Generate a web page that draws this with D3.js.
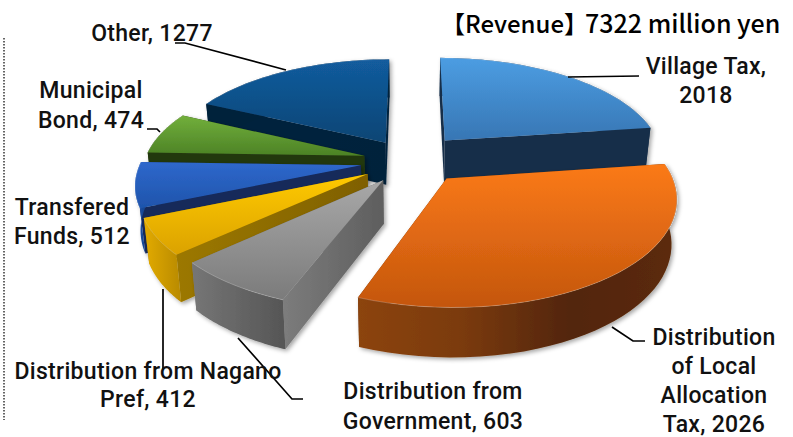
<!DOCTYPE html>
<html>
<head>
<meta charset="utf-8">
<script src="https://cdn.jsdelivr.net/npm/d3@7"></script>
<style>
html, body { margin: 0; padding: 0; background: #fff; }
svg { display: block; }
.label { font-family: Roboto, sans-serif; font-weight: 500; font-size: 23px; fill: #111; text-anchor: middle; letter-spacing: 0.3px; }
.title { font-family: "Noto Sans CJK JP", sans-serif; font-weight: 500; font-size: 24px; fill: #000; }
</style>
</head>
<body>
<div id="chart"></div>
<script>
// data
var categories = ["Village Tax", "Distribution of Local Allocation Tax", "Distribution from Government",
    "Distribution from Nagano Pref", "Transfered Funds", "Municipal Bond", "Other"]
var values = [2018, 2026, 603, 412, 512, 474, 1277]
var labelLines = [
    ["Village Tax,", "2018"],
    ["Distribution", "of Local", "Allocation", "Tax, 2026"],
    ["Distribution from", "Government, 603"],
    ["Distribution from Nagano", "Pref, 412"],
    ["Transfered", "Funds, 512"],
    ["Municipal", "Bond, 474"],
    ["Other, 1277"]
]
var titleHead = "【Revenue】"
var titleTail = "7322 million yen"

// colours: top face gradient, side wall, rim wall gradient
var topColors = [["#4c9de2", "#3776b4"], ["#fb7a17", "#c4560e"], ["#a8a8a8", "#7b7b7b"], ["#ffca00", "#dba200"],
    ["#2f68cc", "#1e54ab"], ["#72af3b", "#4c8226"], ["#125c9e", "#0d4574"]]
var wallColors = [["#182f4a", "#182f4a"], ["#6a3008", "#6a3008"], ["#7c7c7c", "#5e5e5e"], ["#9c7800", "#7f6000"],
    ["#15295a", "#15295a"], ["#23380f", "#23380f"], ["#05233e", "#03213b"]]
var rimColors = [["#182f4a", "#182f4a"], ["#8c4410", "#7a3a0c", "#522507", "#5c2a08"], ["#767676", "#555555"], ["#e3ab00", "#b88a00"],
    ["#1f55ae", "#16438c"], ["#23380f", "#23380f"], ["#03213b", "#03213b"]]
var explode = [0.26, 0.23, 0.22, 0.23, 0.23, 0.22, 0.22]
var drawOrder = [0, 6, 5, 4, 3, 2, 1]

// label placement, one row per category: center x, first baseline, line step
var labelPos = [[706, 74, 29], [714, 345, 29], [433, 399, 30], [148, 379, 28], [72, 215, 29], [91, 98, 30], [152, 41, 0]]
var leaders = [
    [[568, 77], [639, 76]],
    [[612, 327], [633, 341], [645, 341]],
    [[238, 338], [292, 399], [303, 399]],
    [[163, 289], [163, 370]],
    [],
    [[160, 132], [157, 129], [147, 129]],
    [[286, 70], [185, 43], [175, 43]]
]

const width = 793, height = 437
const center = {x: 411, y: 161}
const radiusX = 220, radiusY = 102, perspective = 0.16
const depth = 43, bottomScale = 0.98
const warpRight = 17.2 * Math.PI / 180, warpLeft = 2 * Math.PI / 180
const warpFront = 2 * Math.PI / 180, warpFrontWidth = 25 * Math.PI / 180

var svg = d3.select("#chart").append("svg")
    .attr("width", width)
    .attr("height", height)
var defs = svg.append("defs")

var shadow = defs.append("filter").attr("id", "shadow")
    .attr("x", "-10%").attr("y", "-10%").attr("width", "120%").attr("height", "120%")
shadow.append("feDropShadow")
    .attr("dx", 2).attr("dy", 2).attr("stdDeviation", 2)
    .attr("flood-color", "#000").attr("flood-opacity", 0.35)

function addGradient(id, colors, horizontal)
{
    var g = defs.append("linearGradient").attr("id", id)
        .attr("x1", 0).attr("y1", 0)
        .attr("x2", horizontal ? 1 : 0).attr("y2", horizontal ? 0 : 1)
    colors.forEach(function(c, k)
    {
        g.append("stop").attr("offset", (100 * k / (colors.length - 1)) + "%").attr("stop-color", c)
    })
}

var pie = d3.pie().sort(null).value(function(d) { return d })
var arcs = pie(values)
var warpEnd = arcs[1].endAngle

// the reference is not a true circle, its angles are squeezed a bit on both sides
function view(angle)
{
    var a = angle < warpEnd
        ? angle - warpRight * Math.sin(angle * Math.PI / warpEnd)
        : angle - warpLeft * Math.sin((angle - warpEnd) * Math.PI / (2 * Math.PI - warpEnd))
    var near = 1 - Math.abs(angle - warpEnd) / warpFrontWidth
    return near > 0 ? a + warpFront * near : a
}

function project(u, v, lower)
{
    var w = 1 + perspective * v
    var x = radiusX * u / w
    var y = -radiusY * v / w
    if (!lower) return [center.x + x, center.y + y]
    return [center.x + x * bottomScale, center.y + y * bottomScale + depth / w]
}

function slicePoint(i, angle, r, lower)
{
    var d = arcs[i]
    var mid = view((d.startAngle + d.endAngle) / 2)
    var u = explode[i] * Math.sin(mid) + r * Math.sin(view(angle))
    var v = explode[i] * Math.cos(mid) + r * Math.cos(view(angle))
    return project(u, v, lower)
}

var line = d3.line()

function rimAngles(d)
{
    var n = 40
    return d3.range(n + 1).map(function(k) { return d.startAngle + (d.endAngle - d.startAngle) * k / n })
}

var slices = svg.append("g").attr("class", "slices")

drawOrder.forEach(function(i)
{
    var d = arcs[i]
    addGradient("top" + i, topColors[i], false)
    addGradient("wall" + i, wallColors[i], true)
    addGradient("rim" + i, rimColors[i], true)

    var g = slices.append("g").attr("filter", "url(#shadow)")
    var angles = rimAngles(d)

    // side walls along the two straight edges
    ;[d.endAngle, d.startAngle].forEach(function(a)
    {
        g.append("path")
            .attr("d", line([slicePoint(i, a, 0, false), slicePoint(i, a, 1, false),
                slicePoint(i, a, 1, true), slicePoint(i, a, 0, true)]) + "Z")
            .attr("fill", "url(#wall" + i + ")")
    })

    // outer wall
    var rim = angles.map(function(a) { return slicePoint(i, a, 1, false) })
    var rimLow = angles.map(function(a) { return slicePoint(i, a, 1, true) }).reverse()
    g.append("path")
        .attr("d", line(rim.concat(rimLow)) + "Z")
        .attr("fill", "url(#rim" + i + ")")

    // top face
    g.append("path")
        .attr("d", line([slicePoint(i, d.startAngle, 0, false)].concat(rim)) + "Z")
        .attr("fill", "url(#top" + i + ")")

    // thin light edge along the rim
    g.append("path")
        .attr("d", line(rim))
        .attr("fill", "none")
        .attr("stroke", "#fff")
        .attr("stroke-opacity", 0.22)
        .attr("stroke-width", 1)
})

// leader lines
svg.append("g").selectAll("path")
    .data(leaders)
    .join("path")
    .attr("d", function(d) { return d.length ? line(d) : null })
    .attr("fill", "none")
    .attr("stroke", "#000")
    .attr("stroke-width", 1.7)

// labels
var labels = svg.append("g").selectAll("text")
    .data(labelLines)
    .join("text")
    .attr("class", "label")
labels.each(function(d, i)
{
    d3.select(this).selectAll("tspan")
        .data(d)
        .join("tspan")
        .attr("x", labelPos[i][0])
        .attr("y", function(t, k) { return labelPos[i][1] + k * labelPos[i][2] })
        .text(function(t) { return t })
})

var title = svg.append("text")
    .attr("class", "title")
    .attr("y", 33)
title.append("tspan")
    .attr("x", 441)
    .text(titleHead)
title.append("tspan")
    .attr("x", 585)
    .style("font-size", "25px")
    .text(titleTail)

// dotted divider on the left
svg.append("line")
    .attr("x1", 4).attr("x2", 4)
    .attr("y1", 38).attr("y2", 420)
    .attr("stroke", "#333")
    .attr("stroke-width", 1.5)
    .attr("stroke-dasharray", "1.5 1.5")
</script>
</body>
</html>
